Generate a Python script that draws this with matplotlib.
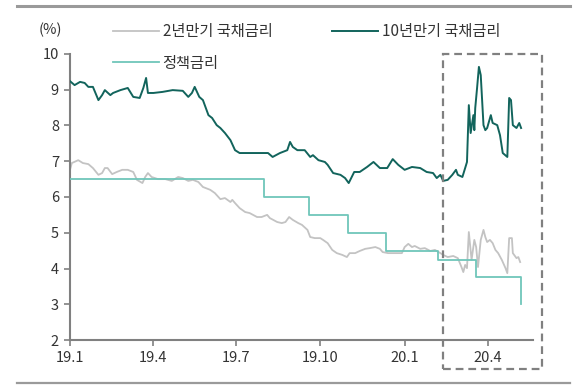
import matplotlib
matplotlib.use("Agg")
import matplotlib.pyplot as plt
import matplotlib.dates as mdates
from matplotlib.patches import Rectangle
from matplotlib.lines import Line2D
import pandas as pd

plt.rcParams['font.family'] = ['Noto Sans CJK KR', 'DejaVu Sans']

# ---- data ----
y10_dates = ["2019-01-01","2019-01-06","2019-01-12","2019-01-17","2019-01-21","2019-01-26",
             "2019-02-01","2019-02-05","2019-02-08","2019-02-14","2019-02-17","2019-02-25",
             "2019-03-05","2019-03-11","2019-03-18","2019-03-22","2019-03-25","2019-03-27",
             "2019-04-02","2019-04-12","2019-04-23","2019-05-04","2019-05-10","2019-05-14",
             "2019-05-17","2019-05-22","2019-05-26","2019-06-01","2019-06-05","2019-06-10",
             "2019-06-14","2019-06-19","2019-06-25","2019-06-30","2019-07-05","2019-07-13",
             "2019-07-20","2019-07-27","2019-08-05","2019-08-10","2019-08-18","2019-08-26",
             "2019-08-29","2019-09-01","2019-09-06","2019-09-14","2019-09-20","2019-09-23",
             "2019-09-29","2019-10-06","2019-10-09","2019-10-15","2019-10-23","2019-10-28",
             "2019-11-01","2019-11-07","2019-11-13","2019-11-21","2019-11-28","2019-12-05",
             "2019-12-13","2019-12-19","2019-12-25","2020-01-01","2020-01-09","2020-01-18",
             "2020-01-25","2020-02-01","2020-02-05","2020-02-09","2020-02-12","2020-02-17",
             "2020-02-22","2020-02-26","2020-02-28","2020-03-04","2020-03-07","2020-03-09",
             "2020-03-11","2020-03-13","2020-03-16","2020-03-17","2020-03-18","2020-03-20",
             "2020-03-22","2020-03-24","2020-03-27","2020-03-29","2020-03-31","2020-04-04",
             "2020-04-06","2020-04-11","2020-04-14","2020-04-17","2020-04-22","2020-04-24",
             "2020-04-26","2020-04-28","2020-05-02","2020-05-05","2020-05-07"]
y10_vals = [9.24,9.13,9.22,9.19,9.08,9.08,
            8.71,8.85,8.99,8.85,8.91,8.99,
            9.05,8.80,8.77,9.05,9.33,8.91,
            8.91,8.94,8.99,8.97,8.80,8.91,
            9.08,8.80,8.71,8.29,8.21,8.01,
            7.93,7.79,7.59,7.31,7.23,7.23,
            7.23,7.23,7.23,7.12,7.23,7.31,
            7.54,7.40,7.31,7.31,7.12,7.17,
            7.03,6.98,6.90,6.67,6.62,6.53,
            6.39,6.70,6.70,6.84,6.98,6.81,
            6.81,7.06,6.90,6.76,6.84,6.81,
            6.70,6.67,6.53,6.62,6.45,6.48,
            6.62,6.76,6.62,6.56,6.81,6.98,
            8.57,7.79,8.29,7.87,8.49,9.05,
            9.64,9.41,8.01,7.87,7.93,8.29,
            8.07,8.01,7.73,7.23,7.12,8.77,
            8.71,8.01,7.93,8.07,7.93]

y2_dates = ["2019-01-01","2019-01-03","2019-01-10","2019-01-15","2019-01-21","2019-01-26",
            "2019-02-01","2019-02-05","2019-02-08","2019-02-11","2019-02-16","2019-02-21",
            "2019-02-27","2019-03-05","2019-03-11","2019-03-15","2019-03-21","2019-03-24",
            "2019-03-27","2019-03-31","2019-04-07","2019-04-15","2019-04-22","2019-04-29",
            "2019-05-04","2019-05-10","2019-05-15","2019-05-21","2019-05-26","2019-06-03",
            "2019-06-08","2019-06-14","2019-06-19","2019-06-25","2019-06-27","2019-06-30",
            "2019-07-05","2019-07-11","2019-07-16","2019-07-24","2019-07-29","2019-08-04",
            "2019-08-07","2019-08-15","2019-08-20","2019-08-24","2019-08-28","2019-09-01",
            "2019-09-07","2019-09-11","2019-09-17","2019-09-20","2019-09-25","2019-10-01",
            "2019-10-04","2019-10-09","2019-10-14","2019-10-19","2019-10-25","2019-10-30",
            "2019-11-02","2019-11-08","2019-11-13","2019-11-19","2019-11-24","2019-11-30",
            "2019-12-05","2019-12-08","2019-12-14","2019-12-22","2019-12-29","2020-01-01",
            "2020-01-05","2020-01-09","2020-01-12","2020-01-18","2020-01-23","2020-01-29",
            "2020-02-03","2020-02-09","2020-02-12","2020-02-17","2020-02-23","2020-02-28",
            "2020-03-03","2020-03-05","2020-03-07","2020-03-09","2020-03-11","2020-03-14",
            "2020-03-17","2020-03-19","2020-03-21","2020-03-24","2020-03-27","2020-03-29",
            "2020-03-31","2020-04-03","2020-04-06","2020-04-09","2020-04-12","2020-04-16",
            "2020-04-20","2020-04-22","2020-04-24","2020-04-27","2020-04-28","2020-05-02",
            "2020-05-04","2020-05-06"]
y2_vals = [6.76,6.95,7.03,6.95,6.92,6.81,
           6.62,6.67,6.81,6.81,6.64,6.70,
           6.76,6.76,6.70,6.48,6.39,6.56,
           6.67,6.56,6.50,6.50,6.45,6.56,
           6.53,6.45,6.48,6.42,6.28,6.20,
           6.11,5.94,5.97,5.86,5.92,5.83,
           5.69,5.58,5.55,5.44,5.44,5.50,
           5.41,5.30,5.27,5.30,5.44,5.36,
           5.27,5.22,5.08,4.88,4.85,4.85,
           4.80,4.71,4.52,4.43,4.38,4.32,
           4.43,4.43,4.49,4.55,4.57,4.60,
           4.55,4.46,4.43,4.43,4.43,4.60,
           4.69,4.60,4.63,4.55,4.57,4.49,
           4.52,4.43,4.38,4.32,4.35,4.29,
           4.04,3.90,4.10,4.01,5.02,4.24,
           4.80,4.60,4.04,4.80,5.08,4.88,
           4.74,4.80,4.71,4.52,4.43,4.24,
           4.01,3.87,4.85,4.85,4.43,4.29,
           4.32,4.18]

policy_dates = ["2019-01-01","2019-08-01","2019-09-19","2019-10-31","2019-12-12",
                "2020-02-06","2020-03-19","2020-05-07"]
policy_vals = [6.5, 6.0, 5.5, 5.0, 4.5, 4.25, 3.75, 3.0]

tick_dates = ["2019-01-01","2019-04-01","2019-07-01","2019-10-01","2020-01-01","2020-04-01"]
tick_labels = ["19.1","19.4","19.7","19.10","20.1","20.4"]
y_ticks = [2, 3, 4, 5, 6, 7, 8, 9, 10]

label_2y = "2년만기 국채금리"
label_10y = "10년만기 국채금리"
label_policy = "정책금리"

# ---- figure ----
fig = plt.figure(figsize=(5.88, 3.87), dpi=100)
ax = fig.add_axes([70/588, 1-340/387, (533-70)/588, (340-54)/387])

c_gray = "#c3c3c3"
c_dark = "#12645c"
c_teal = "#6fc6ba"
c_axis = "#808080"
c_text = "#333333"

l2, = ax.plot(pd.to_datetime(y2_dates), y2_vals, color=c_gray, lw=1.3, label=label_2y, zorder=2)
lp, = ax.plot(pd.to_datetime(policy_dates), policy_vals, color=c_teal, lw=1.3,
              drawstyle="steps-post", label=label_policy, zorder=3)
l10, = ax.plot(pd.to_datetime(y10_dates), y10_vals, color=c_dark, lw=1.4, label=label_10y, zorder=4)

ax.set_ylim(2, 10)
ax.set_yticks(y_ticks)
ax.set_xlim(pd.Timestamp("2019-01-01"), pd.Timestamp("2020-05-20"))
ax.set_xticks(pd.to_datetime(tick_dates))
ax.set_xticklabels(tick_labels)

for s in ["top", "right"]:
    ax.spines[s].set_visible(False)
for s in ["left", "bottom"]:
    ax.spines[s].set_color(c_axis)
    ax.spines[s].set_linewidth(1.5)
ax.tick_params(axis="both", colors=c_axis, labelcolor=c_text, labelsize=10.5,
               length=4, width=1.2, direction="out")
ax.tick_params(axis="y", pad=4)
ax.tick_params(axis="x", pad=4)

ax.text(-0.043, 1.085, "(%)", transform=ax.transAxes, ha="center", va="center",
        fontsize=10.5, color=c_text)

# highlight box (Feb 2020 onwards)
box_x0 = mdates.date2num(pd.Timestamp("2020-02-12"))
box_x1 = mdates.date2num(pd.Timestamp("2020-05-30"))
box = Rectangle((box_x0, 1.2), box_x1 - box_x0, 10.0 - 1.2, fill=False,
                edgecolor=c_axis, lw=1.6, ls=(0, (3.5, 2.2)), clip_on=False, zorder=5)
ax.add_patch(box)

leg = fig.legend(handles=[l2, lp, l10], labels=[label_2y, label_policy, label_10y],
                 ncol=2, loc="upper left", bbox_to_anchor=(113/588, 1-23/387),
                 frameon=False, fontsize=11, handlelength=3.0, handletextpad=0.25,
                 columnspacing=3.9, labelspacing=0.95, borderpad=0, borderaxespad=0)
for t in leg.get_texts():
    t.set_color(c_text)

# top and bottom rules
fig.add_artist(Line2D([17/588, 570/588], [1-6/387, 1-6/387], color="#9a9a9a", lw=2.2))
fig.add_artist(Line2D([17/588, 570/588], [1-383/387, 1-383/387], color="#9a9a9a", lw=1.6))

fig.savefig("out.png", dpi=100)
